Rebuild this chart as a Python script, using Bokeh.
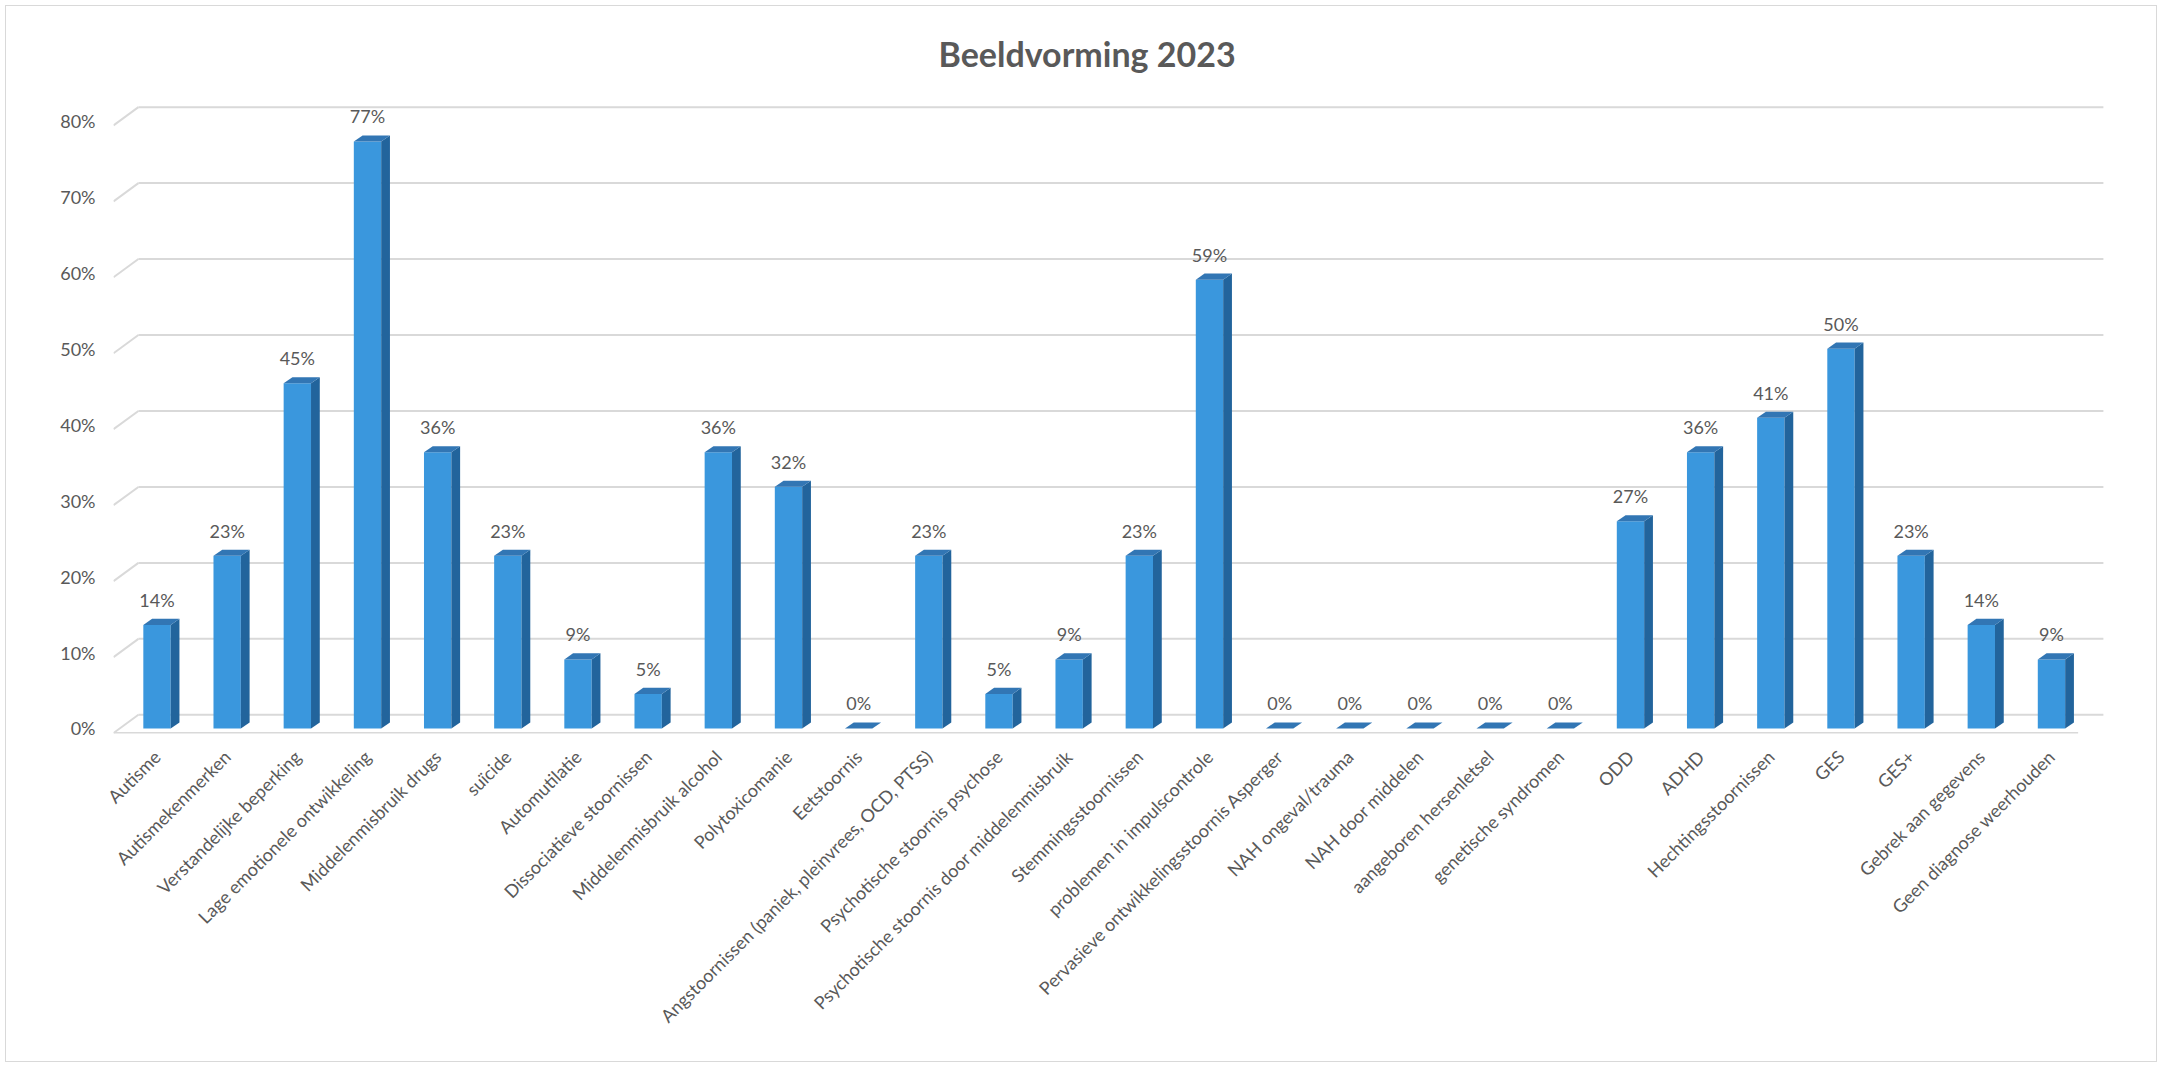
import math
from bokeh.plotting import figure
from bokeh.models import Range1d, FixedTicker, PrintfTickFormatter
from bokeh.embed import file_html
from bokeh.resources import INLINE
from bokeh.core.properties import value

# ---------------- data ----------------
title_text = "Beeldvorming 2023"

categories = [
    "Autisme",
    "Autismekenmerken",
    "Verstandelijke beperking",
    "Lage emotionele ontwikkeling",
    "Middelenmisbruik drugs",
    "suïcide",
    "Automutilatie",
    "Dissociatieve stoornissen",
    "Middelenmisbruik alcohol",
    "Polytoxicomanie",
    "Eetstoornis",
    "Angstoornissen (paniek, pleinvrees, OCD, PTSS)",
    "Psychotische stoornis psychose",
    "Psychotische stoornis door middelenmisbruik",
    "Stemmingsstoornissen",
    "problemen in impulscontrole",
    "Pervasieve ontwikkelingsstoornis Asperger",
    "NAH ongeval/trauma",
    "NAH door middelen",
    "aangeboren hersenletsel",
    "genetische syndromen",
    "ODD",
    "ADHD",
    "Hechtingsstoornissen",
    "GES",
    "GES+",
    "Gebrek aan gegevens",
    "Geen diagnose weerhouden",
]

percentages = [
    13.64, 22.73, 45.45, 77.27, 36.36, 22.73, 9.09, 4.55, 36.36, 31.82,
    0.0, 22.73, 4.55, 9.09, 22.73, 59.09, 0.0, 0.0, 0.0, 0.0,
    0.0, 27.27, 36.36, 40.91, 50.0, 22.73, 13.64, 9.09,
]

y_ticks = [0, 10, 20, 30, 40, 50, 60, 70, 80]

# ---------------- style / geometry ----------------
TEXT_GREY = "#595959"
GRID_GREY = "#d9d9d9"
FRONT_BLUE = "#3A97DD"
SIDE_BLUE = "#22649C"
TOP_BLUE = "#3276B4"

BAR_W = 0.39      # front face width (category units)
DX = 0.125        # depth of side face (category units)
DY = 0.8          # rise of top face (% units)
FLOOR_FRONT = -0.6
FLOOR_BACK = 1.8
n = len(categories)
X_FRONT_L = -0.62
X_BACK_L = -0.265
X_FRONT_R = (n - 1) + 0.38
X_BACK_R = (n - 1) + 0.74

xs = list(range(n))

p = figure(
    width=2152, height=1057,
    output_backend="svg", toolbar_location=None,
    x_range=Range1d(-0.62, (n - 1) + 0.77),
    y_range=Range1d(-0.66, 83.07),
    min_border_left=107, min_border_right=53,
    min_border_top=89, min_border_bottom=330,
)
p.outline_line_color = None
p.background_fill_color = "white"
p.border_fill_color = "white"
p.xgrid.grid_line_color = None
p.ygrid.grid_line_color = None
p.styles = {"border": "1px solid #d9d9d9", "margin-left": "5px", "margin-top": "5px"}

# title
p.title.text = title_text
p.title.align = "left"
p.title.offset = 825
p.title.text_font = "Lato"
p.title.text_font_style = "bold"
p.title.text_font_size = "34px"
p.title.text_color = TEXT_GREY
p.title.standoff = 48

# 3D-like gridlines (back wall) + left stubs + floor front edge
p.segment(x0=[X_BACK_L] * len(y_ticks), y0=[t + FLOOR_BACK for t in y_ticks],
          x1=[X_BACK_R] * len(y_ticks), y1=[t + FLOOR_BACK for t in y_ticks],
          line_color=GRID_GREY, line_width=2)
p.segment(x0=[X_FRONT_L] * len(y_ticks), y0=[t + FLOOR_FRONT for t in y_ticks],
          x1=[X_BACK_L] * len(y_ticks), y1=[t + FLOOR_BACK for t in y_ticks],
          line_color=GRID_GREY, line_width=2)
p.segment(x0=[X_FRONT_L], y0=[FLOOR_FRONT], x1=[X_FRONT_R], y1=[FLOOR_FRONT],
          line_color=GRID_GREY, line_width=2)

# bars: front face
p.vbar(x=xs, top=percentages, bottom=0, width=BAR_W,
       fill_color=FRONT_BLUE, line_color=None)

# side faces
side_x = [[x + BAR_W / 2, x + BAR_W / 2 + DX, x + BAR_W / 2 + DX, x + BAR_W / 2] for x in xs]
side_y = [[0, DY, v + DY, v] for v in percentages]
p.patches(side_x, side_y, fill_color=SIDE_BLUE, line_color=None)

# top faces
top_x = [[x - BAR_W / 2, x + BAR_W / 2, x + BAR_W / 2 + DX, x - BAR_W / 2 + DX] for x in xs]
top_y = [[v, v, v + DY, v + DY] for v in percentages]
p.patches(top_x, top_y, fill_color=TOP_BLUE, line_color=None)

# data labels
labels = [f"{v:.0f}%" for v in percentages]
p.text(x=xs, y=[v + DY for v in percentages], text=labels,
       text_align="center", text_baseline="bottom", y_offset=-8,
       text_font=value("Lato"), text_font_size="18px", text_color=TEXT_GREY)

# axes
p.yaxis.ticker = FixedTicker(ticks=y_ticks)
p.yaxis.formatter = PrintfTickFormatter(format="%d%%")
p.yaxis.axis_line_color = None
p.yaxis.major_tick_line_color = None
p.yaxis.minor_tick_line_color = None
p.yaxis.major_label_text_font = "Lato"
p.yaxis.major_label_text_font_size = "18px"
p.yaxis.major_label_text_color = TEXT_GREY
p.yaxis.major_label_standoff = 12

p.xaxis.ticker = FixedTicker(ticks=xs)
p.xaxis.major_label_overrides = {i: c for i, c in enumerate(categories)}
p.xaxis.major_label_orientation = math.pi / 4
p.xaxis.axis_line_color = None
p.xaxis.major_tick_line_color = None
p.xaxis.minor_tick_line_color = None
p.xaxis.major_label_text_font = "Lato"
p.xaxis.major_label_text_font_size = "18px"
p.xaxis.major_label_text_color = TEXT_GREY
p.xaxis.major_label_standoff = 14

open("out.html", "w").write(file_html(p, INLINE))
